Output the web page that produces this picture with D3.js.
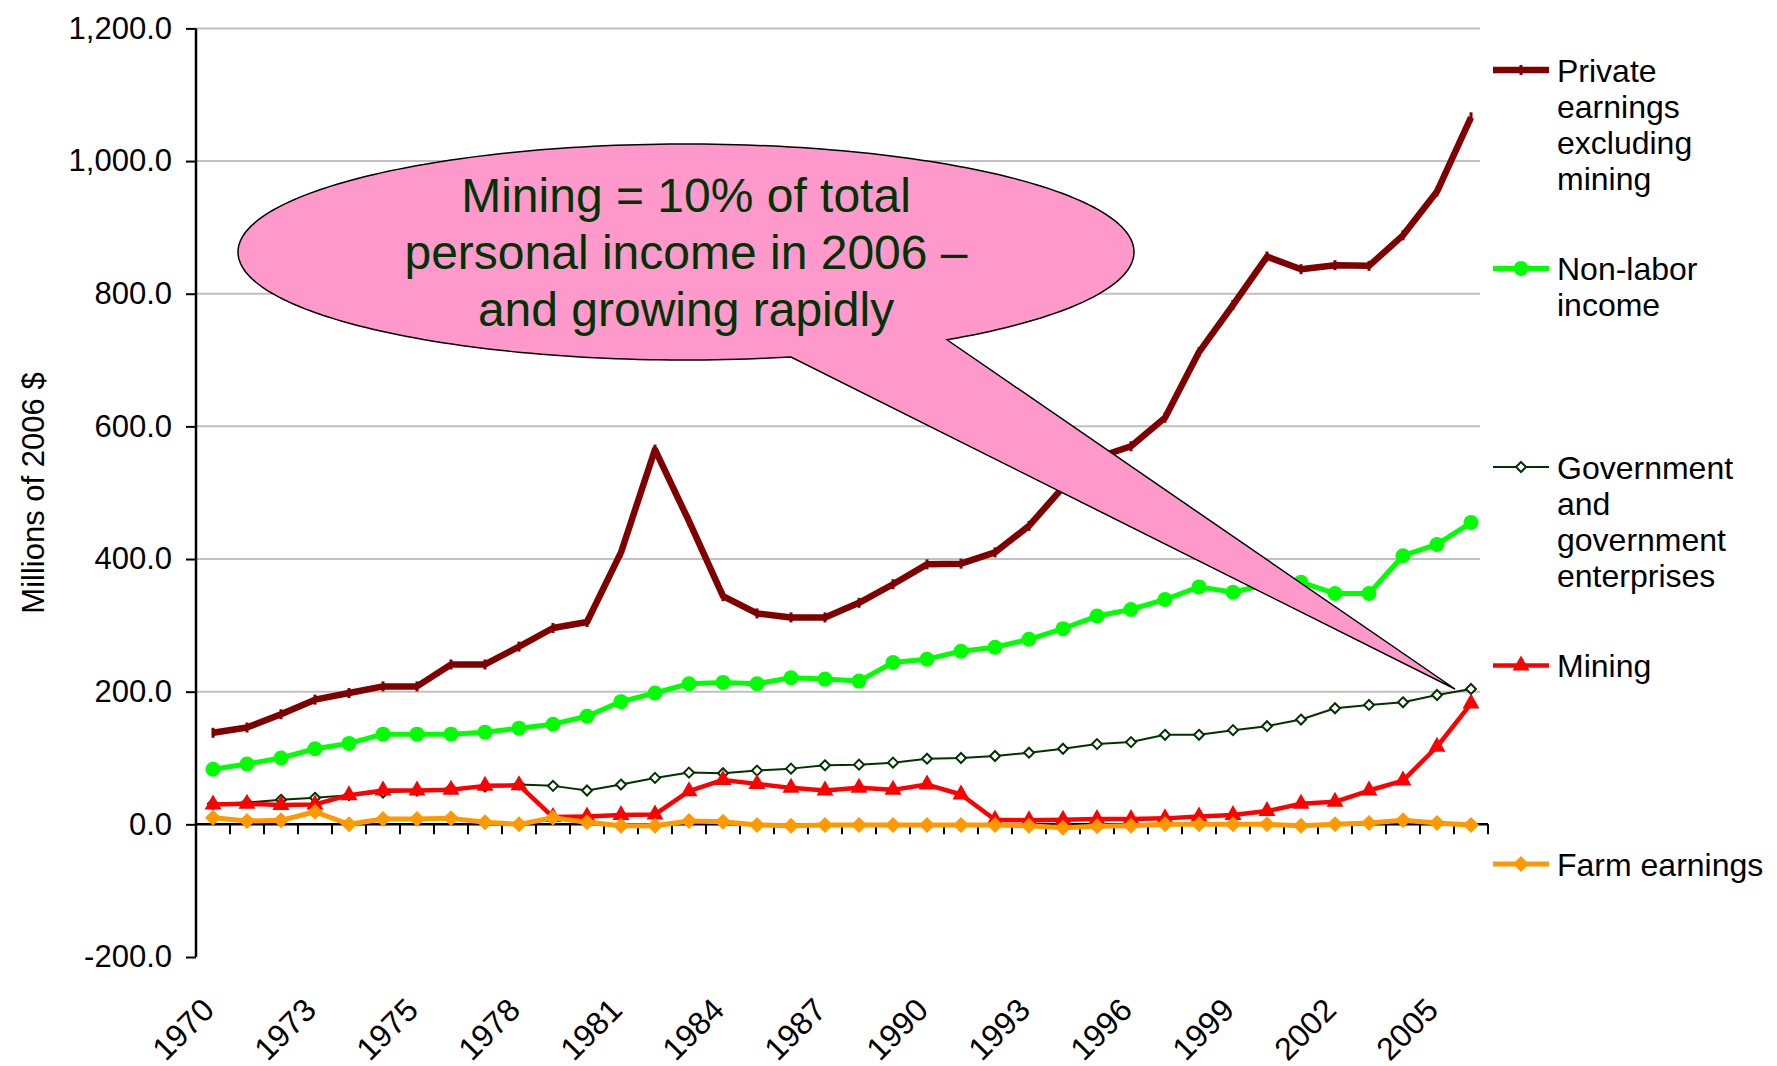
<!DOCTYPE html>
<html><head><meta charset="utf-8">
<script src="https://cdn.jsdelivr.net/npm/d3@7"></script>
<style>
body{margin:0;background:#fff}
svg{display:block}
text{font-family:"Liberation Sans",Arial,Helvetica,sans-serif;fill:#000}
</style>
</head><body>
<svg id="chart" width="1777" height="1066"></svg>
<script>
// ---- data ----
const categories = ["1970","1971","1972","1973","1974","1974","1975","1976","1977","1978",
  "1979","1980","1981","1982","1983","1984","1985","1986","1987","1988",
  "1989","1990","1991","1992","1993","1994","1995","1996","1997","1998",
  "1999","2000","2001","2002","2003","2004","2005","2006"];
const privateEarnings = [138,146,166,188,198,208,208,241,241,268,
  296,305,410,565,457,344,318,312,312,334,
  362,392,393,410,450,508,553,570,613,712,
  783,856,837,843,842,888,954,1066];
const nonLabor = [83,91,100,114,122,136,136,136,139,145,
  151,163,185,198,212,214,212,221,219,216,
  244,249,261,267,279,295,314,324,339,358,
  350,362,365,348,348,405,422,455];
const government = [31,33,37,40,44,48,51,54,57,60,
  58,51,60,70,78,77,81,84,89,90,
  93,99,100,103,108,114,121,124,135,135,
  142,148,158,175,180,184,195,204];
const mining = [30,31,29,30,44,51,51,52,58,59,
  11,12,14,15,50,67,61,55,51,55,
  52,60,45,7,6,7,8,8,9,12,
  14,20,31,34,51,66,117,182];
const farm = [10,5,6,19,0,8,8,9,3,0,
  10,3,-2,-2,5,4,-1,-2,-1,-1,
  -1,-1,-1,-1,-2,-5,-3,-2,0,0,
  0,0,-2,0,2,6,2,-1];
const yTicks = [-200,0,200,400,600,800,1000,1200];
const seriesNames = ["Private earnings excluding mining","Non-labor income","Government and government enterprises","Mining","Farm earnings"];
const legendLines = [["Private","earnings","excluding","mining"],["Non-labor","income"],["Government","and","government","enterprises"],["Mining"],["Farm earnings"]];
const calloutLines = ["Mining = 10% of total","personal income in 2006 \u2013","and growing rapidly"];
const yTitle = "Millions of 2006 $";

// ---- layout ----
const svg = d3.select("#chart");
svg.append("rect").attr("width",1777).attr("height",1066).attr("fill","#fff");
const L = 196, R = 1488, T = 28.4, B = 957;
const x = d3.scaleBand().domain(d3.range(categories.length)).range([L, R]);
const cx = i => x(i) + x.bandwidth()/2;
const y = d3.scaleLinear().domain([-200,1200]).range([B, T]);
const fmt = d3.format(",.1f");

// gridlines
svg.append("g").selectAll("line").data(yTicks.filter(v => v > 0)).join("line")
  .attr("x1", L).attr("x2", 1480).attr("y1", d => y(d)).attr("y2", d => y(d))
  .attr("stroke", "#c0c0c0").attr("stroke-width", 2);

// y axis
const yAxis = svg.append("g").attr("transform", `translate(${L},0)`)
  .call(d3.axisLeft(y).tickValues(yTicks).tickFormat(d => fmt(d).replace("\u2212","-")).tickSize(10).tickPadding(14));
yAxis.select(".domain").attr("stroke","#000").attr("stroke-width",2.5).attr("d",`M0,${T}V${B}`);
yAxis.selectAll(".tick line").attr("stroke","#000").attr("stroke-width",2);
yAxis.selectAll(".tick text").attr("font-size",31).attr("font-family","'Liberation Sans',Arial,sans-serif");

// x axis at 0
const x0 = y(0);
svg.append("line").attr("x1",L).attr("x2",R).attr("y1",x0).attr("y2",x0).attr("stroke","#000").attr("stroke-width",2.5);
svg.append("g").selectAll("line").data(d3.range(categories.length+1)).join("line")
  .attr("x1", i => L + i*x.bandwidth()).attr("x2", i => L + i*x.bandwidth())
  .attr("y1", x0).attr("y2", x0+10).attr("stroke","#000").attr("stroke-width",2);
// category labels at plot bottom
svg.append("g").selectAll("text").data(d3.range(categories.length).filter(i => i % 3 === 0)).join("text")
  .attr("transform", i => `translate(${cx(i)+3},1012) rotate(-45)`)
  .attr("text-anchor","end").attr("font-size",32).text(i => categories[i]);

// y title
svg.append("text").attr("transform","translate(44,493) rotate(-90)")
  .attr("text-anchor","middle").attr("font-size",31).text(yTitle);

// ---- series ----
const line = d3.line().x((d,i) => cx(i)).y(d => y(d));
const diamond = s => `M0,${-s}L${s},0L0,${s}L${-s},0Z`;
const tri = (w,h) => `M0,${-h*2/3}L${w/2},${h/3}L${-w/2},${h/3}Z`;

function drawSeries(data, color, width, marker){
  const g = svg.append("g");
  g.append("path").datum(data).attr("d", line).attr("fill","none")
    .attr("stroke", color).attr("stroke-width", width).attr("stroke-linejoin","round");
  if (marker) marker(g.selectAll(".m").data(data).join("g").attr("class","m")
    .attr("transform",(d,i) => `translate(${cx(i)},${y(d)})`));
}
const mPrivate = s => s.append("rect").attr("x",-1.5).attr("y",-5).attr("width",3).attr("height",10).attr("fill","#800000");
const mCircle = s => s.append("circle").attr("r",7.5).attr("fill","#00ff00");
const mGov = s => s.append("path").attr("d",diamond(5)).attr("fill","#fff").attr("stroke","#003300").attr("stroke-width",2);
const mTri = s => s.append("path").attr("d",tri(17,15)).attr("fill","#ff0000");
const mFarm = s => s.append("path").attr("d",diamond(8)).attr("fill","#ff9900");

drawSeries(privateEarnings, "#800000", 6.5, mPrivate);
drawSeries(nonLabor, "#00ff00", 5, mCircle);
drawSeries(government, "#003300", 2, mGov);
drawSeries(mining, "#ff0000", 4.5, mTri);
drawSeries(farm, "#ff9900", 5, mFarm);

// ---- callout ----
const ecx = 686, ecy = 252, erx = 448, ery = 108;
const onEllipse = px => [px, ecy + ery*Math.sqrt(1 - Math.pow((px-ecx)/erx, 2))];
const B1 = onEllipse(947), A1 = onEllipse(791), tip = [1455,689];
// build ellipse outline as explicit points (long way round from B1 to A1)
const angB = Math.atan2((B1[1]-ecy)/ery, (B1[0]-ecx)/erx);
const angA = Math.atan2((A1[1]-ecy)/ery, (A1[0]-ecx)/erx);
const pts = [];
const steps = 240;
let a0 = angB, a1 = angA - 2*Math.PI;
for (let k = 0; k <= steps; k++) {
  const a = a0 + (a1 - a0) * k/steps;
  pts.push([ecx + erx*Math.cos(a), ecy + ery*Math.sin(a)]);
}
pts.push(tip);
svg.append("path")
  .attr("d", d3.line()(pts) + "Z")
  .attr("fill","#ff99cc").attr("stroke","#000").attr("stroke-width",1.5).attr("stroke-linejoin","miter");
svg.append("g").selectAll("text").data(calloutLines).join("text")
  .attr("x", ecx).attr("y",(d,i) => 195 + i*57).attr("dy","0.35em")
  .attr("text-anchor","middle").attr("font-size",48).style("fill","#003300").text(d => d);

// ---- legend ----
const legColors = ["#800000","#00ff00","#003300","#ff0000","#ff9900"];
const legWidths = [6.5,5,2,4.5,5];
const legMarkers = [mPrivate, mCircle, mGov, mTri, mFarm];
const leg = svg.append("g");
seriesNames.forEach((name,k) => {
  const ly = 70 + k*198.5;
  const g = leg.append("g").attr("transform",`translate(0,${ly})`);
  g.append("line").attr("x1",1493).attr("x2",1549).attr("y1",0).attr("y2",0)
    .attr("stroke",legColors[k]).attr("stroke-width",legWidths[k]);
  legMarkers[k](g.append("g").attr("transform","translate(1521,0)"));
  g.append("text").attr("x",1557).attr("y",0).attr("font-size",32)
    .selectAll("tspan").data(legendLines[k]).join("tspan")
    .attr("x",1557).attr("dy",(d,i) => i === 0 ? "0.36em" : "36px").text(d => d);
});
</script>
</body></html>
